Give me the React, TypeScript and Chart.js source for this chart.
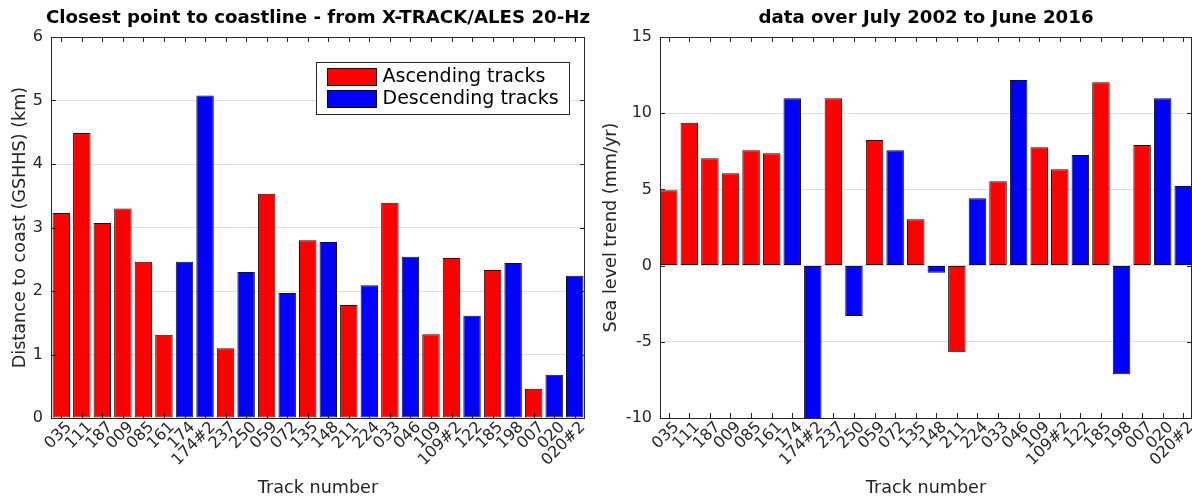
import React, { useEffect, useRef } from "react";
import { Chart, registerables } from "chart.js";

Chart.register(...registerables);
Chart.defaults.font.family = "'DejaVu Sans', sans-serif";

// Track identifiers along the x axis (shared by both panels)
const tracks = [
  "035", "111", "187", "009", "085", "161", "174", "174#2", "237", "250",
  "059", "072", "135", "148", "211", "224", "033", "046", "109", "109#2",
  "122", "185", "198", "007", "020", "020#2",
];

// A = ascending pass, D = descending pass
const direction = [
  "A", "A", "A", "A", "A", "A", "D", "D", "A", "D",
  "A", "D", "A", "D", "A", "D", "A", "D", "A", "A",
  "D", "A", "D", "A", "D", "D",
];

// Distance from the closest along-track point to the GSHHS coastline (km)
const distanceKm = [
  3.23, 4.49, 3.07, 3.30, 2.46, 1.31, 2.46, 5.08, 1.10, 2.30,
  3.53, 1.97, 2.80, 2.77, 1.78, 2.09, 3.39, 2.54, 1.32, 2.52,
  1.61, 2.33, 2.44, 0.46, 0.68, 2.24,
];

// Sea level trend per track, July 2002 - June 2016 (mm/yr)
const trendMmYr = [
  4.94, 9.38, 7.04, 6.06, 7.57, 7.37, 10.98, -11.0, 10.98, -3.3,
  8.24, 7.57, 3.04, -0.47, -5.69, 4.42, 5.53, 12.18, 7.76, 6.32,
  7.26, 12.03, -7.13, 7.91, 10.98, 5.22,
];

const distanceTicks = [0, 1, 2, 3, 4, 5, 6];
const trendTicks = [-10, -5, 0, 5, 10, 15];

const legendLabels = ["Ascending tracks", "Descending tracks"];

const RED = "#ff0000";
const BLUE = "#0000ff";
const AXIS = "#262626";
const GRID = "#dedede";

const CANVAS_W = 596;
const CANVAS_H = 498;

// Draws the boxed axes with inward ticks, the panel title and an optional legend
const framePlugin = {
  id: "frame",
  afterDraw(chart: any, _args: any, opts: any) {
    const { ctx, chartArea: a, scales } = chart;
    const xs = scales.x;
    const ys = scales.y;
    const len = 5;
    ctx.save();
    ctx.strokeStyle = AXIS;
    ctx.lineWidth = 1;
    ctx.beginPath();
    xs.ticks.forEach((t: any) => {
      const px = Math.round(xs.getPixelForValue(t.value)) + 0.5;
      ctx.moveTo(px, a.bottom);
      ctx.lineTo(px, a.bottom - len);
      ctx.moveTo(px, a.top);
      ctx.lineTo(px, a.top + len);
    });
    ys.ticks.forEach((t: any) => {
      const py = Math.round(ys.getPixelForValue(t.value)) + 0.5;
      ctx.moveTo(a.left, py);
      ctx.lineTo(a.left + len, py);
      ctx.moveTo(a.right, py);
      ctx.lineTo(a.right - len, py);
    });
    ctx.stroke();
    ctx.strokeRect(
      Math.round(a.left) + 0.5,
      Math.round(a.top) + 0.5,
      Math.round(a.right - a.left) - 1,
      Math.round(a.bottom - a.top)
    );

    ctx.fillStyle = "#000";
    ctx.font = "bold 18.2px 'DejaVu Sans'";
    ctx.textAlign = "center";
    ctx.textBaseline = "middle";
    ctx.fillText(opts.title, (a.left + a.right) / 2, opts.titleY);

    if (opts.legend) {
      const bw = 253;
      const bh = 52;
      const bx = Math.round(a.right - opts.legendRight - bw) + 0.5;
      const by = Math.round(a.top + opts.legendTop) + 0.5;
      ctx.fillStyle = "#fff";
      ctx.fillRect(bx, by, bw, bh);
      ctx.strokeStyle = AXIS;
      ctx.strokeRect(bx, by, bw, bh);
      const colors = [RED, BLUE];
      ctx.font = "19px 'DejaVu Sans'";
      ctx.textAlign = "left";
      ctx.textBaseline = "middle";
      legendLabels.forEach((lab, i) => {
        const sy = by + 6 + i * 22;
        ctx.fillStyle = colors[i];
        ctx.fillRect(bx + 11, sy, 49, 17);
        ctx.strokeStyle = "#000";
        ctx.strokeRect(bx + 11, sy, 49, 17);
        ctx.fillStyle = "#000";
        ctx.fillText(lab, bx + 66, sy + 9);
      });
    }
    ctx.restore();
  },
};

type PanelCfg = {
  values: number[];
  yTicks: number[];
  yMin: number;
  yMax: number;
  xMin: number;
  xMax: number;
  yWidth: number;
  padRight: number;
  yTitle: string;
  yTitlePad: number;
  title: string;
  legend: boolean;
};

function makeChart(canvas: HTMLCanvasElement, cfg: PanelCfg) {
  const tickFont = { size: 16 };
  const labelFont = { size: 17.6, lineHeight: 1 };
  return new Chart(canvas, {
    type: "bar",
    data: {
      datasets: [
        {
          data: cfg.values.map((v, i) => ({ x: i + 1, y: v })),
          backgroundColor: direction.map((d) => (d === "A" ? RED : BLUE)),
          borderColor: "#111",
          borderWidth: 1,
          borderSkipped: false,
          barPercentage: 0.85,
          categoryPercentage: 1,
        } as any,
      ],
    },
    options: {
      responsive: false,
      animation: false,
      devicePixelRatio: 1,
      layout: { padding: { top: 37, right: cfg.padRight, left: 0, bottom: 0 } },
      plugins: {
        legend: { display: false },
        tooltip: { enabled: false },
        title: { display: false },
        frame: {
          title: cfg.title,
          titleY: 18,
          legend: cfg.legend,
          legendRight: 16,
          legendTop: 25,
        },
      } as any,
      scales: {
        x: {
          type: "linear",
          offset: false,
          min: cfg.xMin,
          max: cfg.xMax,
          afterBuildTicks: (s: any) => {
            s.ticks = tracks.map((_, i) => ({ value: i + 1 }));
          },
          afterFit: (s: any) => {
            s.height = 80;
            s.paddingLeft = 0;
            s.paddingRight = 0;
          },
          ticks: {
            autoSkip: false,
            minRotation: 45,
            maxRotation: 45,
            padding: 0,
            labelOffset: 8,
            color: AXIS,
            font: tickFont,
            callback: (v: any) => tracks[Math.round(Number(v)) - 1],
          },
          grid: { display: false, drawTicks: false, offset: false },
          border: { display: false },
          title: {
            display: true,
            text: "Track number",
            color: AXIS,
            font: labelFont,
            padding: { top: 0, bottom: 1 },
          },
        },
        y: {
          type: "linear",
          min: cfg.yMin,
          max: cfg.yMax,
          afterBuildTicks: (s: any) => {
            s.ticks = cfg.yTicks.map((v) => ({ value: v }));
          },
          afterFit: (s: any) => {
            s.width = cfg.yWidth;
          },
          ticks: { padding: 8, color: AXIS, font: tickFont },
          grid: { color: GRID, drawTicks: false },
          border: { display: false },
          title: {
            display: true,
            text: cfg.yTitle,
            color: AXIS,
            font: labelFont,
            padding: { top: cfg.yTitlePad, bottom: 0 },
          },
        },
      },
    } as any,
    plugins: [framePlugin],
  });
}

function BarPanel({ cfg }: { cfg: PanelCfg }) {
  const ref = useRef<HTMLCanvasElement>(null);
  useEffect(() => {
    const chart = makeChart(ref.current as HTMLCanvasElement, cfg);
    return () => chart.destroy();
  }, [cfg]);
  return (
    <canvas
      ref={ref}
      width={CANVAS_W}
      height={CANVAS_H}
      style={{ display: "block", width: CANVAS_W, height: CANVAS_H }}
    />
  );
}

const distancePanel: PanelCfg = {
  values: distanceKm,
  yTicks: distanceTicks,
  yMin: 0,
  yMax: 6,
  xMin: 0.5,
  xMax: 26.5,
  yWidth: 51,
  padRight: 11,
  yTitle: "Distance to coast (GSHHS) (km)",
  yTitlePad: 12,
  title: "Closest point to coastline - from X-TRACK/ALES 20-Hz",
  legend: true,
};

const trendPanel: PanelCfg = {
  values: trendMmYr,
  yTicks: trendTicks,
  yMin: -10,
  yMax: 15,
  xMin: 0.575,
  xMax: 26.425,
  yWidth: 64,
  padRight: 0,
  yTitle: "Sea level trend (mm/yr)",
  yTitlePad: 7,
  title: "data over July 2002 to June 2016",
  legend: false,
};

export default function App() {
  return (
    <div
      style={{
        position: "fixed",
        left: 0,
        top: 0,
        width: CANVAS_W * 2,
        height: CANVAS_H,
        display: "flex",
        background: "#fff",
      }}
    >
      <BarPanel cfg={distancePanel} />
      <BarPanel cfg={trendPanel} />
    </div>
  );
}
